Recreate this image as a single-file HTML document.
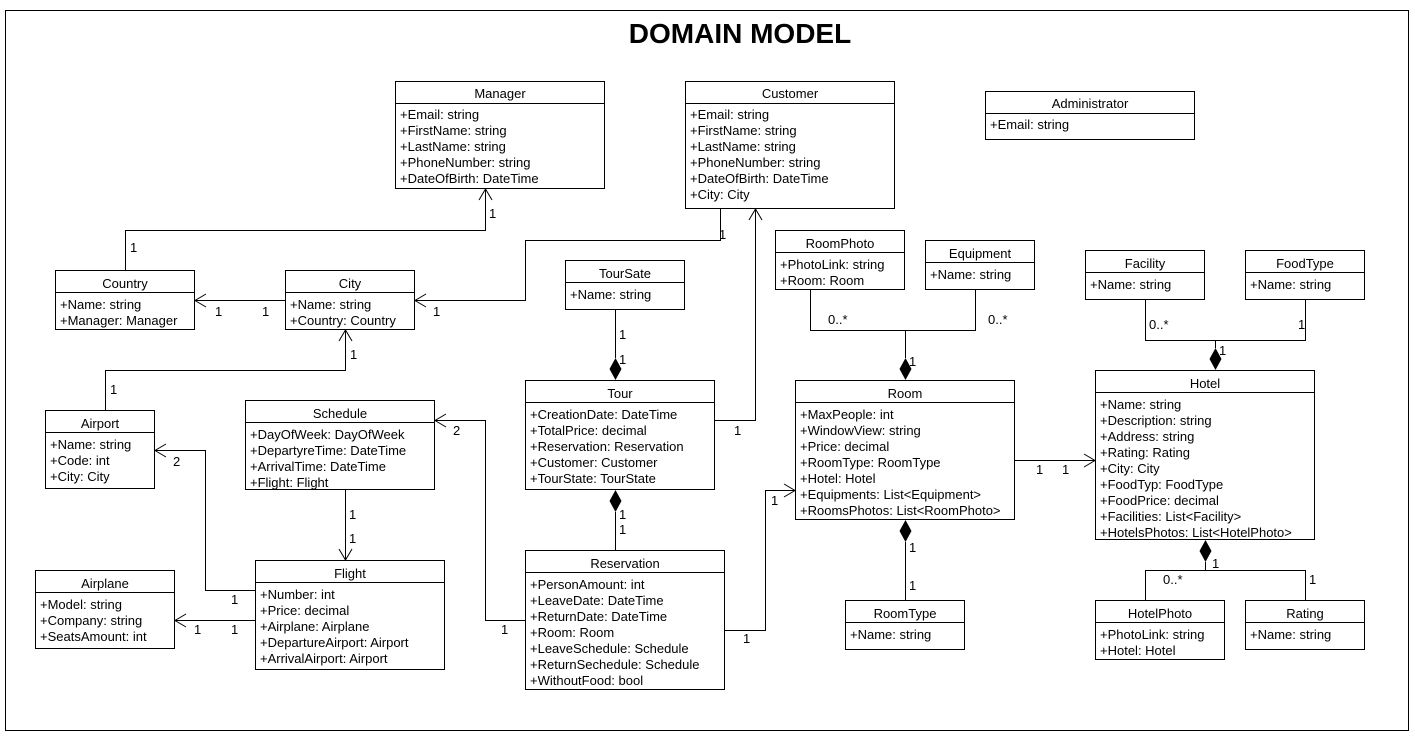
<!DOCTYPE html>
<html><head><meta charset="utf-8"><style>
html,body{margin:0;padding:0;background:#fff}
svg{display:block}
text{font-family:"Liberation Sans",sans-serif;font-size:13px;fill:#000}
.t{text-anchor:middle}
</style></head><body>
<svg width="1415" height="739" viewBox="0 0 1415 739" xmlns="http://www.w3.org/2000/svg">
<rect x="5.5" y="10.5" width="1403" height="720" fill="none" stroke="#000"/>
<text x="740" y="43" class="t" style="font-size:28px;font-weight:bold">DOMAIN MODEL</text>
<g fill="#fff" stroke="#000" stroke-width="1">
<rect x="395.5" y="81.5" width="209" height="107"/><line x1="395" y1="103.5" x2="605" y2="103.5"/>
<rect x="685.5" y="81.5" width="209" height="127"/><line x1="685" y1="103.5" x2="895" y2="103.5"/>
<rect x="985.5" y="91.5" width="209" height="48"/><line x1="985" y1="113.5" x2="1195" y2="113.5"/>
<rect x="55.5" y="270.5" width="139" height="59"/><line x1="55" y1="292.5" x2="195" y2="292.5"/>
<rect x="285.5" y="270.5" width="129" height="59"/><line x1="285" y1="292.5" x2="415" y2="292.5"/>
<rect x="565.5" y="260.5" width="119" height="49"/><line x1="565" y1="282.5" x2="685" y2="282.5"/>
<rect x="775.5" y="230.5" width="129" height="59"/><line x1="775" y1="252.5" x2="905" y2="252.5"/>
<rect x="925.5" y="240.5" width="109" height="49"/><line x1="925" y1="262.5" x2="1035" y2="262.5"/>
<rect x="1085.5" y="250.5" width="119" height="49"/><line x1="1085" y1="272.5" x2="1205" y2="272.5"/>
<rect x="1245.5" y="250.5" width="119" height="49"/><line x1="1245" y1="272.5" x2="1365" y2="272.5"/>
<rect x="45.5" y="410.5" width="109" height="78"/><line x1="45" y1="432.5" x2="155" y2="432.5"/>
<rect x="245.5" y="400.5" width="189" height="89"/><line x1="245" y1="422.5" x2="435" y2="422.5"/>
<rect x="525.5" y="380.5" width="189" height="109"/><line x1="525" y1="402.5" x2="715" y2="402.5"/>
<rect x="795.5" y="380.5" width="219" height="139"/><line x1="795" y1="402.5" x2="1015" y2="402.5"/>
<rect x="1095.5" y="370.5" width="219" height="169"/><line x1="1095" y1="392.5" x2="1315" y2="392.5"/>
<rect x="35.5" y="570.5" width="139" height="78"/><line x1="35" y1="592.5" x2="175" y2="592.5"/>
<rect x="255.5" y="560.5" width="189" height="109"/><line x1="255" y1="582.5" x2="445" y2="582.5"/>
<rect x="525.5" y="550.5" width="199" height="139"/><line x1="525" y1="572.5" x2="725" y2="572.5"/>
<rect x="845.5" y="600.5" width="119" height="49"/><line x1="845" y1="622.5" x2="965" y2="622.5"/>
<rect x="1095.5" y="600.5" width="129" height="59"/><line x1="1095" y1="622.5" x2="1225" y2="622.5"/>
<rect x="1245.5" y="600.5" width="119" height="49"/><line x1="1245" y1="622.5" x2="1365" y2="622.5"/>
</g>
<text x="500" y="98" class="t">Manager</text>
<text x="400" y="119">+Email: string</text><text x="400" y="135">+FirstName: string</text><text x="400" y="151">+LastName: string</text><text x="400" y="167">+PhoneNumber: string</text><text x="400" y="183">+DateOfBirth: DateTime</text>
<text x="790" y="98" class="t">Customer</text>
<text x="690" y="119">+Email: string</text><text x="690" y="135">+FirstName: string</text><text x="690" y="151">+LastName: string</text><text x="690" y="167">+PhoneNumber: string</text><text x="690" y="183">+DateOfBirth: DateTime</text><text x="690" y="199">+City: City</text>
<text x="1090" y="108" class="t">Administrator</text><text x="990" y="129">+Email: string</text>
<text x="125" y="288" class="t">Country</text><text x="60" y="309">+Name: string</text><text x="60" y="325">+Manager: Manager</text>
<text x="350" y="288" class="t">City</text><text x="290" y="309">+Name: string</text><text x="290" y="325">+Country: Country</text>
<text x="625" y="278" class="t">TourSate</text><text x="570" y="299">+Name: string</text>
<text x="840" y="248" class="t">RoomPhoto</text><text x="780" y="269">+PhotoLink: string</text><text x="780" y="285">+Room: Room</text>
<text x="980" y="258" class="t">Equipment</text><text x="930" y="279">+Name: string</text>
<text x="1145" y="268" class="t">Facility</text><text x="1090" y="289">+Name: string</text>
<text x="1305" y="268" class="t">FoodType</text><text x="1250" y="289">+Name: string</text>
<text x="100" y="428" class="t">Airport</text><text x="50" y="449">+Name: string</text><text x="50" y="465">+Code: int</text><text x="50" y="481">+City: City</text>
<text x="340" y="418" class="t">Schedule</text><text x="250" y="439">+DayOfWeek: DayOfWeek</text><text x="250" y="455">+DepartyreTime: DateTime</text><text x="250" y="471">+ArrivalTime: DateTime</text><text x="250" y="487">+Flight: Flight</text>
<text x="620" y="398" class="t">Tour</text><text x="530" y="419">+CreationDate: DateTime</text><text x="530" y="435">+TotalPrice: decimal</text><text x="530" y="451">+Reservation: Reservation</text><text x="530" y="467">+Customer: Customer</text><text x="530" y="483">+TourState: TourState</text>
<text x="905" y="398" class="t">Room</text><text x="800" y="419">+MaxPeople: int</text><text x="800" y="435">+WindowView: string</text><text x="800" y="451">+Price: decimal</text><text x="800" y="467">+RoomType: RoomType</text><text x="800" y="483">+Hotel: Hotel</text><text x="800" y="499">+Equipments: List&lt;Equipment&gt;</text><text x="800" y="515">+RoomsPhotos: List&lt;RoomPhoto&gt;</text>
<text x="1205" y="388" class="t">Hotel</text><text x="1100" y="409">+Name: string</text><text x="1100" y="425">+Description: string</text><text x="1100" y="441">+Address: string</text><text x="1100" y="457">+Rating: Rating</text><text x="1100" y="473">+City: City</text><text x="1100" y="489">+FoodTyp: FoodType</text><text x="1100" y="505">+FoodPrice: decimal</text><text x="1100" y="521">+Facilities: List&lt;Facility&gt;</text><text x="1100" y="537">+HotelsPhotos: List&lt;HotelPhoto&gt;</text>
<text x="105" y="588" class="t">Airplane</text><text x="40" y="609">+Model: string</text><text x="40" y="625">+Company: string</text><text x="40" y="641">+SeatsAmount: int</text>
<text x="350" y="578" class="t">Flight</text><text x="260" y="599">+Number: int</text><text x="260" y="615">+Price: decimal</text><text x="260" y="631">+Airplane: Airplane</text><text x="260" y="647">+DepartureAirport: Airport</text><text x="260" y="663">+ArrivalAirport: Airport</text>
<text x="625" y="568" class="t">Reservation</text><text x="530" y="589">+PersonAmount: int</text><text x="530" y="605">+LeaveDate: DateTime</text><text x="530" y="621">+ReturnDate: DateTime</text><text x="530" y="637">+Room: Room</text><text x="530" y="653">+LeaveSchedule: Schedule</text><text x="530" y="669">+ReturnSechedule: Schedule</text><text x="530" y="685">+WithoutFood: bool</text>
<text x="905" y="618" class="t">RoomType</text><text x="850" y="639">+Name: string</text>
<text x="1160" y="618" class="t">HotelPhoto</text><text x="1100" y="639">+PhotoLink: string</text><text x="1100" y="655">+Hotel: Hotel</text>
<text x="1305" y="618" class="t">Rating</text><text x="1250" y="639">+Name: string</text>
<g fill="none" stroke="#000" stroke-width="1">
<polyline points="125.5,270 125.5,230.5 485.5,230.5 485.5,189"/><polyline points="479,200 485.5,189 492,200"/>
<polyline points="720.5,208 720.5,240.5 525.5,240.5 525.5,300.5 415,300.5"/><polyline points="426,294 415,300.5 426,307"/>
<polyline points="285,300.5 195,300.5"/><polyline points="206,294 195,300.5 206,307"/>
<polyline points="105.5,410 105.5,370.5 345.5,370.5 345.5,330"/><polyline points="339,341 345.5,330 352,341"/>
<polyline points="255,590.5 205.5,590.5 205.5,450.5 155,450.5"/><polyline points="166,444 155,450.5 166,457"/>
<polyline points="255,620.5 175,620.5"/><polyline points="186,614 175,620.5 186,627"/>
<polyline points="345.5,490 345.5,560"/><polyline points="339,549 345.5,560 352,549"/>
<polyline points="525,620.5 485.5,620.5 485.5,420.5 435,420.5"/><polyline points="446,414 435,420.5 446,427"/>
<polyline points="615.5,310 615.5,358"/>
<polyline points="615.5,512 615.5,550"/>
<polyline points="715,420.5 755.5,420.5 755.5,209"/><polyline points="749,220 755.5,209 762,220"/>
<polyline points="725,630.5 765.5,630.5 765.5,490.5 795,490.5"/><polyline points="784,484 795,490.5 784,497"/>
<polyline points="810.5,290 810.5,330.5 975.5,330.5 975.5,290"/><polyline points="905.5,330.5 905.5,358"/>
<polyline points="905.5,542 905.5,600"/>
<polyline points="1015,460.5 1095,460.5"/><polyline points="1084,454 1095,460.5 1084,467"/>
<polyline points="1145.5,300 1145.5,340.5 1305.5,340.5 1305.5,300"/><polyline points="1215.5,340.5 1215.5,348"/>
<polyline points="1205.5,562 1205.5,570.5"/><polyline points="1145.5,600 1145.5,570.5 1305.5,570.5 1305.5,600"/>
</g>
<g fill="#000">
<polygon points="615.5,358 609.5,369 615.5,380 621.5,369"/>
<polygon points="615.5,490 609.5,501 615.5,512 621.5,501"/>
<polygon points="905.5,358 899.5,369 905.5,380 911.5,369"/>
<polygon points="905.5,520 899.5,531 905.5,542 911.5,531"/>
<polygon points="1215.5,348 1209.5,359 1215.5,370 1221.5,359"/>
<polygon points="1205.5,540 1199.5,551 1205.5,562 1211.5,551"/>
</g>
<text x="130" y="252">1</text><text x="489" y="218">1</text>
<text x="719" y="239">1</text><text x="433" y="316">1</text>
<text x="215" y="316">1</text><text x="262" y="316">1</text>
<text x="350" y="359">1</text><text x="110" y="394">1</text>
<text x="173" y="466">2</text><text x="231" y="604">1</text>
<text x="194" y="634">1</text><text x="231" y="634">1</text>
<text x="349" y="519">1</text><text x="349" y="543">1</text>
<text x="453" y="435">2</text><text x="501" y="634">1</text>
<text x="619" y="339">1</text><text x="619" y="364">1</text>
<text x="619" y="519">1</text><text x="619" y="534">1</text>
<text x="734" y="435">1</text>
<text x="743" y="643">1</text><text x="771" y="505">1</text>
<text x="828" y="324">0..*</text><text x="988" y="324">0..*</text><text x="909" y="366">1</text>
<text x="909" y="552">1</text><text x="909" y="590">1</text>
<text x="1036" y="474">1</text><text x="1062" y="474">1</text>
<text x="1149" y="329">0..*</text><text x="1298" y="329">1</text><text x="1219" y="355">1</text>
<text x="1163" y="584">0..*</text><text x="1212" y="568">1</text><text x="1309" y="584">1</text>
</svg>
</body></html>
